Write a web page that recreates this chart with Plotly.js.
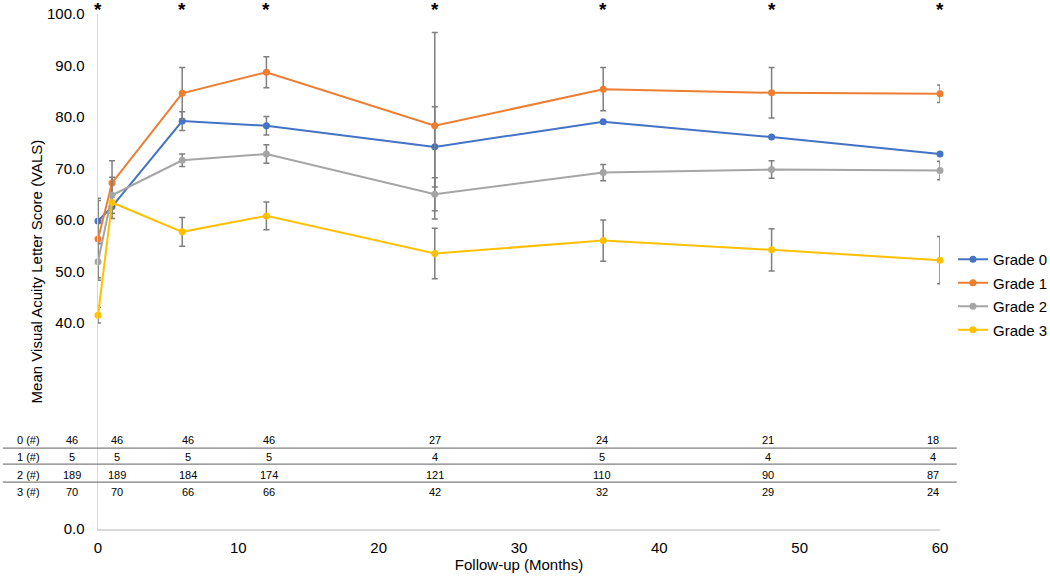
<!DOCTYPE html>
<html><head><meta charset="utf-8">
<script src="https://cdn.plot.ly/plotly-3.0.1.min.js"></script>
<style>html,body{margin:0;padding:0;background:#fff;overflow:hidden}#chart{width:1050px;height:579px}</style>
</head><body><div id="chart"></div>
<script>
// ---- data ----
const months = [0, 1, 6, 12, 24, 36, 48, 60];
const seriesNames = ['Grade 0', 'Grade 1', 'Grade 2', 'Grade 3'];
const grade0 = [59.8, 62.6, 79.2, 78.3, 74.2, 79.1, 76.1, 72.8];
const grade1 = [56.3, 67.2, 84.6, 88.7, 78.3, 85.4, 84.7, 84.5];
const grade2 = [51.9, 64.8, 71.6, 72.8, 65.0, 69.2, 69.8, 69.6];
const grade3 = [41.5, 63.4, 57.7, 60.8, 53.5, 56.0, 54.2, 52.2];
const err0 = [4.4, 2.3, 1.8, 1.8, 7.8, null, null, null];
const err1 = [7.5, 4.3, 5.0, 3.0, 18.1, 4.2, 4.9, 1.7];
const err2 = [3.6, 3.5, 1.2, 1.8, 3.2, 1.6, 1.7, 1.8];
const err3 = [1.5, null, 2.8, 2.7, 4.9, 4.0, 4.1, 4.6];
const sigMonths = [0, 6, 12, 24, 36, 48, 60];
const rowLabels = ['0 (#)', '1 (#)', '2 (#)', '3 (#)'];
const n0 = [46, 46, 46, 46, 27, 24, 21, 18];
const n1 = [5, 5, 5, 5, 4, 5, 4, 4];
const n2 = [189, 189, 184, 174, 121, 110, 90, 87];
const n3 = [70, 70, 66, 66, 42, 32, 29, 24];
const yTicks = [0, 40, 50, 60, 70, 80, 90, 100];
const xTicks = [0, 10, 20, 30, 40, 50, 60];

// ---- styling ----
const colors = ['#4472C4', '#ED7D31', '#A5A5A5', '#FFC000'];
const FONT = 'Liberation Sans, Arial, Helvetica, sans-serif';
const values = [grade0, grade1, grade2, grade3];
const errs = [err0, err1, err2, err3];
const counts = [n0, n1, n2, n3];

const traces = values.map((v, i) => ({
  type: 'scatter', mode: 'lines+markers', name: seriesNames[i],
  legendgroup: 'g' + i,
  x: months, y: v, cliponaxis: false,
  line: {color: colors[i], width: 2},
  marker: {color: colors[i], size: 7},
  error_y: {type: 'data', symmetric: true,
            array: errs[i].map(e => (e === null ? NaN : e)),
            color: '#7f7f7f', thickness: 1.5, width: 3}
}));

// table positions (y in data units of the value axis)
const rowY = [17.3, 14.0, 10.5, 7.2];
const lineY = [15.7, 12.6, 9.1];
const colShift = [-26, 5, 6, 3, 0, -1, -4, -7];

const annotations = [];
sigMonths.forEach(m => annotations.push({
  x: m, y: 100, xref: 'x', yref: 'y', text: '<b>*</b>', showarrow: false,
  yanchor: 'middle', yshift: 5, font: {family: FONT, size: 19, color: '#000'}
}));
rowLabels.forEach((lab, r) => {
  annotations.push({x: 0, y: rowY[r], xref: 'x', yref: 'y', text: lab, showarrow: false,
    xshift: -70, font: {family: FONT, size: 11, color: '#000'}});
  counts[r].forEach((c, k) => annotations.push({
    x: months[k], y: rowY[r], xref: 'x', yref: 'y', text: String(c), showarrow: false,
    xshift: colShift[k], font: {family: FONT, size: 11, color: '#000'}
  }));
});

const shapes = lineY.map(y => ({
  type: 'line', xref: 'paper', yref: 'y', x0: -0.113, x1: 1.02, y0: y, y1: y,
  line: {color: '#7f7f7f', width: 1.3}, layer: 'above'
}));

const layout = {
  width: 1050, height: 579,
  margin: {l: 98, r: 110, t: 14, b: 50, autoexpand: false},
  paper_bgcolor: '#fff', plot_bgcolor: '#fff',
  font: {family: FONT, color: '#000'},
  showlegend: true,
  legend: {x: 1.0154, xanchor: 'left', y: 0.5553, yanchor: 'top', tracegroupgap: 1,
           font: {family: FONT, size: 15, color: '#000'}, bgcolor: 'rgba(0,0,0,0)'},
  xaxis: {range: [0, 60], tickvals: xTicks, showgrid: false, zeroline: false,
          showline: true, linecolor: '#d9d9d9', linewidth: 1.5,
          ticks: 'outside', ticklen: 4, tickcolor: 'rgba(0,0,0,0)',
          tickfont: {size: 15}, automargin: false,
          title: {text: 'Follow-up (Months)', font: {size: 15}, standoff: 4}},
  yaxis: {range: [0, 100], tickvals: yTicks, tickformat: '.1f', showgrid: false,
          zeroline: false, showline: true, linecolor: '#d9d9d9', linewidth: 1.5,
          ticks: 'outside', ticklen: 9, tickcolor: 'rgba(0,0,0,0)',
          tickfont: {size: 15}, automargin: false,
          title: {text: 'Mean Visual Acuity Letter Score (VALS)', font: {size: 15}, standoff: 0}},
  annotations: annotations,
  shapes: shapes
};

Plotly.newPlot('chart', traces, layout, {displayModeBar: false, staticPlot: true});
</script>
</body></html>
